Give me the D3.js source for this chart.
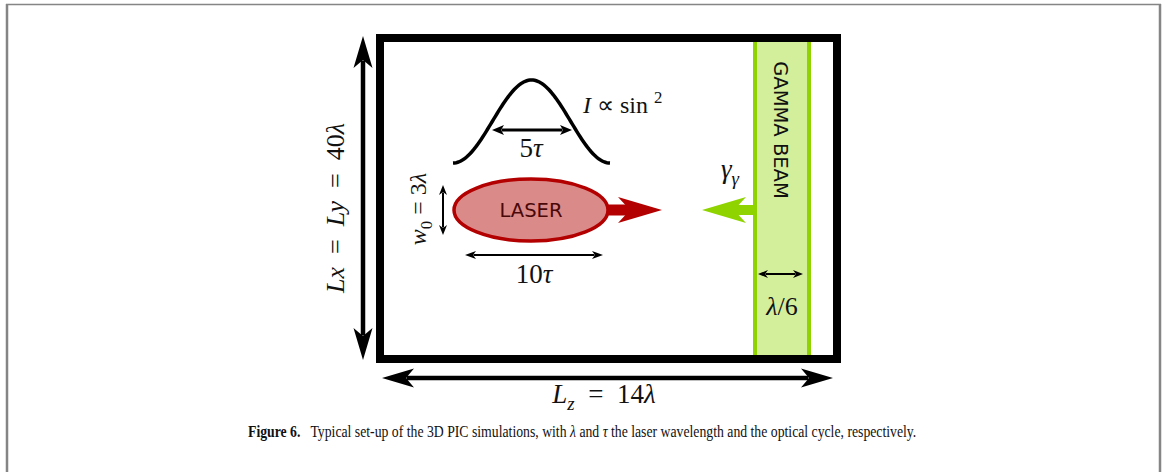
<!DOCTYPE html>
<html><head><meta charset="utf-8">
<script src="https://cdn.jsdelivr.net/npm/d3@7"></script>
<style>body{margin:0;background:#fff}svg{display:block}</style>
</head><body><svg id="c" width="1165" height="472"></svg>
<script>
// ---- content ----
const boxSizeLambda = [14, 40];          // Lz, Lx = Ly (in λ)
const pulseTau = [5, 10];                // FWHM of I ∝ sin², total duration (in τ)
const waistLambda = [3];                 // w0
const beamThickness = ["λ", "/6"];
const blockLabels = ["LASER", "GAMMA BEAM"];
const captionParts = [["Figure 6.", "b"], ["\u2002 Typical set-up of the 3D PIC simulations, with ", "r"], ["λ", "i"], [" and ", "r"], ["τ", "i"], [" the laser wavelength and the optical cycle, respectively.", "r"]];

const svg = d3.select("#c");
const W = 1165, H = 472;
const serif = "'Liberation Serif', serif";
const sans = "'DejaVu Sans', sans-serif";
const EN = "\u2002";

// outer figure frame (open at the bottom)
const frame = svg.append("g").attr("stroke", "#858585").attr("fill", "none");
frame.append("line").attr("x1", 7).attr("x2", 7).attr("y1", 4).attr("y2", H).attr("stroke-width", 2.5);
frame.append("line").attr("x1", 1160).attr("x2", 1160).attr("y1", 4).attr("y2", H).attr("stroke-width", 2.5);
frame.append("line").attr("x1", 6).attr("x2", 1161).attr("y1", 4.5).attr("y2", 4.5).attr("stroke-width", 1.5);

// simulation box scales (z along the box, x across)
const zScale = d3.scaleLinear().domain([0, boxSizeLambda[0]]).range([380, 837]);
const xScale = d3.scaleLinear().domain([0, boxSizeLambda[1]]).range([38, 359]);

// arrow helpers
function head(g, x, y, ang, len, hw, notch, color) {
  g.append("path")
    .attr("d", `M0,0 L${-len},${-hw} L${-len + notch},0 L${-len},${hw} Z`)
    .attr("transform", `translate(${x},${y}) rotate(${ang})`)
    .attr("fill", color);
}
function dblArrow(g, x1, y1, x2, y2, sw, len, hw, notch, color = "#000") {
  const ang = Math.atan2(y2 - y1, x2 - x1), d = len - notch + 0.5;
  const c = Math.cos(ang), s = Math.sin(ang);
  g.append("line").attr("x1", x1 + c * d).attr("y1", y1 + s * d).attr("x2", x2 - c * d).attr("y2", y2 - s * d)
    .attr("stroke", color).attr("stroke-width", sw);
  const deg = ang * 180 / Math.PI;
  head(g, x2, y2, deg, len, hw, notch, color);
  head(g, x1, y1, deg + 180, len, hw, notch, color);
}
function blockArrow(g, xBase, xTip, y, shaftH, len, hw, notch, color) {
  const dir = Math.sign(xTip - xBase);
  const xj = xTip - dir * (len - notch - 1);
  g.append("rect").attr("x", Math.min(xBase, xj)).attr("width", Math.abs(xj - xBase))
    .attr("y", y - shaftH / 2).attr("height", shaftH).attr("fill", color);
  head(g, xTip, y, dir > 0 ? 0 : 180, len, hw, notch, color);
}

const g = svg.append("g");

// gamma beam slab
const beamX0 = 755, beamX1 = 809;
g.append("rect").attr("x", beamX0).attr("y", xScale(0) + 4).attr("width", beamX1 - beamX0)
  .attr("height", xScale(boxSizeLambda[1]) - xScale(0) - 8).attr("fill", "#d4ef9c");
[beamX0, beamX1].forEach(bx => g.append("line").attr("x1", bx).attr("x2", bx)
  .attr("y1", xScale(0) + 4).attr("y2", xScale(boxSizeLambda[1]) - 4)
  .attr("stroke", "#8fd300").attr("stroke-width", 4));

// simulation box
g.append("rect").attr("x", zScale(0)).attr("y", xScale(0))
  .attr("width", zScale(boxSizeLambda[0]) - zScale(0)).attr("height", xScale(boxSizeLambda[1]) - xScale(0))
  .attr("fill", "none").attr("stroke", "#000").attr("stroke-width", 8);

// box dimension arrows
dblArrow(g, 363, 36, 363, 360, 4.5, 32, 9.5, 8);
dblArrow(g, 382, 378, 833, 378, 4.5, 32, 9.5, 8);

// math text helper: parts = [[text, style]] style: i=italic, r=roman, sub, sup
function mathText(g, x, y, parts, size, opts = {}) {
  const t = g.append("text").attr("x", x).attr("y", y).attr("font-family", serif)
    .attr("font-size", size).attr("fill", "#111").attr("text-anchor", opts.anchor || "middle");
  if (opts.rotate) t.attr("transform", `rotate(${opts.rotate},${x},${y})`);
  let shift = 0;
  parts.forEach(([txt, st]) => {
    const ts = t.append("tspan").text(txt);
    if (st.includes("i")) ts.attr("font-style", "italic");
    let target = 0, fs = size;
    if (st.includes("sub")) { target = size * 0.25; fs = size * 0.7; }
    if (st.includes("sup")) { target = -size * 0.4; fs = size * 0.7; }
    if (target !== shift) { ts.attr("dy", target - shift); shift = target; }
    ts.attr("font-size", fs);
  });
  return t;
}

// Lx = Ly = 40λ
mathText(g, 344, 208, [["Lx", "i"], [EN + "=" + EN, "r"], ["Ly", "i"], [EN + "=" + EN + boxSizeLambda[1], "r"], ["λ", "i"]], 26, { rotate: -90 });
// Lz = 14λ
mathText(g, 604, 403, [["L", "i"], ["z", "i sub"], [EN + "=" + EN + boxSizeLambda[0], "r"], ["λ", "i"]], 27);

// laser pulse temporal profile: I ∝ sin²
const px0 = 453, px1 = 610, pBase = 163, pPeak = 80;
const pts = d3.range(0, 1.0001, 0.01).map(u => [px0 + u * (px1 - px0), pBase - (pBase - pPeak) * Math.sin(Math.PI * u) ** 2]);
g.append("path").attr("d", d3.line()(pts)).attr("fill", "none").attr("stroke", "#000").attr("stroke-width", 3.5);
dblArrow(g, 492, 130, 572, 130, 3, 12, 5, 3);
mathText(g, 531, 157, [[String(pulseTau[0]), "r"], ["τ", "i"]], 27);
mathText(g, 583, 113, [["I", "i"], [" ∝ sin ", "r"], ["2", "sup"]], 24, { anchor: "start" });

// laser ellipse + red arrow
blockArrow(g, 600, 662, 210, 11, 44, 13, 12, "#b30000");
g.append("ellipse").attr("cx", 531).attr("cy", 210).attr("rx", 77).attr("ry", 31)
  .attr("fill", "#db8a8a").attr("stroke", "#b30000").attr("stroke-width", 3.5);
g.append("text").attr("x", 531).attr("y", 216.5).attr("text-anchor", "middle")
  .attr("font-family", sans).attr("font-size", 19.5).attr("fill", "#4a0808").text(blockLabels[0]);

// 10τ duration
dblArrow(g, 465, 255, 603, 255, 2, 11, 4, 3);
mathText(g, 534, 283, [[String(pulseTau[1]), "r"], ["τ", "i"]], 27);

// waist w0
dblArrow(g, 443, 185, 443, 235, 2, 10, 4, 3);
mathText(g, 426, 209, [["w", "i"], ["0", "sub"], [" = " + waistLambda[0], "r"], ["λ", "i"]], 24, { rotate: -90 });

// gamma beam label and arrow
g.append("text").attr("transform", "translate(774,130) rotate(90)").attr("text-anchor", "middle")
  .attr("font-family", sans).attr("font-size", 19.5).attr("fill", "#111").text(blockLabels[1]);
blockArrow(g, 757, 702, 210, 10, 44, 13, 12, "#8fd300");
mathText(g, 730, 178, [["γ", "i"], ["γ", "i sub"]], 27);

// beam thickness
dblArrow(g, 758, 274, 803, 274, 2, 10, 4, 3);
mathText(g, 782, 315, [[beamThickness[0], "i"], [beamThickness[1], "r"]], 26);

// caption: one text, horizontally condensed to the reference width
const capX0 = 248, capX1 = 917, capY = 437, capSize = 17.5;
const capG = svg.append("g");
const cap = capG.append("text").attr("x", 0).attr("y", 0).attr("font-family", serif)
  .attr("font-size", capSize).attr("fill", "#111").style("white-space", "pre");
captionParts.forEach(([s, st]) => {
  const ts = cap.append("tspan").text(s);
  if (st === "b") ts.attr("font-weight", "bold");
  if (st === "i") ts.attr("font-style", "italic");
});
const natW = cap.node().getComputedTextLength();
capG.attr("transform", `translate(${capX0},${capY}) scale(${(capX1 - capX0) / natW},1)`);
</script></body></html>
